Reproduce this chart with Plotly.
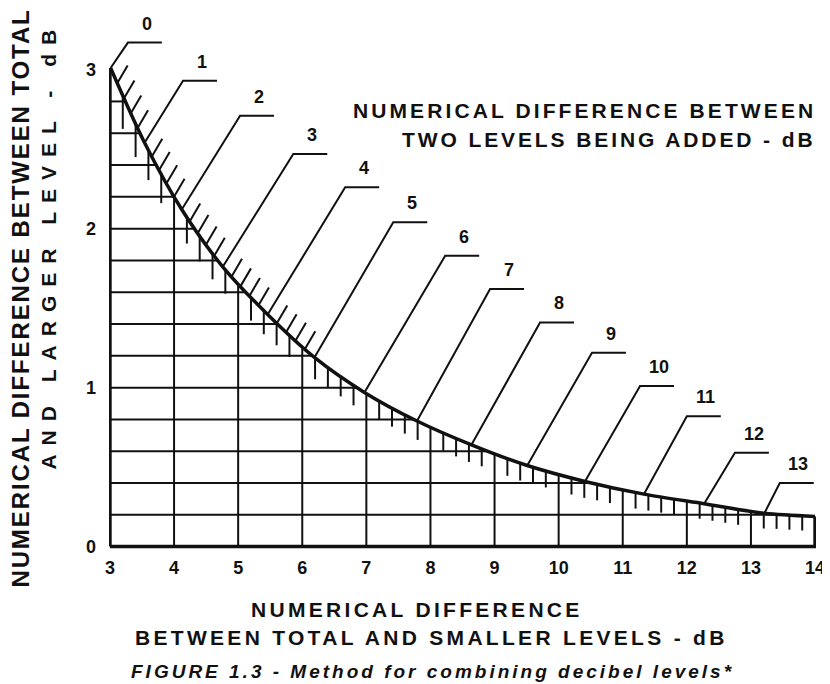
import numpy as np
import plotly.graph_objects as go

# ---------------- data ----------------
level_diff = [0, 1, 2, 3, 4, 5, 6, 7, 8, 9, 10, 11, 12, 13]          # dB between the two levels
smaller_diff = [3.01, 3.54, 4.12, 4.76, 5.46, 6.19, 6.97, 7.79, 8.64, 9.51, 10.41, 11.33, 12.27, 13.21]
larger_diff = [3.01, 2.54, 2.12, 1.76, 1.46, 1.19, 0.97, 0.79, 0.64, 0.51, 0.41, 0.33, 0.27, 0.21]
curve_tail_x = [14.0]
curve_tail_y = [0.19]
x_tick_vals = [3, 4, 5, 6, 7, 8, 9, 10, 11, 12, 13, 14]
y_tick_vals = [0, 1, 2, 3]
grid_step_y = 0.2

# ---------------- layout helpers (label placement) ----------------
label_elbow_x = [3.28, 4.14, 5.03, 5.86, 6.67, 7.42, 8.23, 8.93, 9.71, 10.52, 11.27, 12.0, 12.75, 13.45]
label_elbow_y = [3.17, 2.93, 2.71, 2.47, 2.26, 2.04, 1.83, 1.62, 1.41, 1.22, 1.01, 0.82, 0.59, 0.40]
seg_len = 0.53

OFF = 8.0                    # page body margin
X0_PX, UX = 110.0 - OFF, 64.1     # pixel of x=3, pixels per x unit (figure coords)
Y0_PX, UY = 547.0 - OFF, 159.0    # pixel of y=0, pixels per y unit
XR = [2.985, 14.015]
YR = [-0.015, 3.35]
W, H = 822, 676
ml = X0_PX + (XR[0] - 3) * UX
pw = (XR[1] - XR[0]) * UX
mt = Y0_PX - YR[1] * UY
ph = (YR[1] - YR[0]) * UY


def pxp(px):   # page px -> paper x
    return (px - OFF - ml) / pw


def pyp(py):   # page py -> paper y
    return (mt + ph - (py - OFF)) / ph


cx = smaller_diff + curve_tail_x
cy = larger_diff + curve_tail_y
cx_arr = np.array(cx)
cy_arr = np.array(cy)


def curve_y(x):
    return np.interp(x, cx_arr, cy_arr)


def curve_x(y):
    return np.interp(y, cy_arr[::-1], cx_arr[::-1])


BLACK = "#111111"
FONT = "Liberation Sans"

fig = go.Figure()

# grid bounded by the curve
gx, gy = [], []
for xv in x_tick_vals[1:-1]:
    gx += [xv, xv, None]
    gy += [0, float(curve_y(xv)), None]
yv = grid_step_y
while yv < 2.99:
    gx += [3, float(curve_x(yv)), None]
    gy += [yv, yv, None]
    yv = round(yv + grid_step_y, 3)
fig.add_trace(go.Scatter(x=gx, y=gy, mode="lines", line=dict(color=BLACK, width=2),
                         hoverinfo="skip", showlegend=False))

# hatching below the curve (vertical ticks)
hx, hy = [], []
xs = np.round(np.arange(3.2, 14.0, 0.2), 2)
for xv in xs:
    if abs(xv - round(xv)) < 1e-6:
        continue
    yc = float(curve_y(xv))
    slope = abs((curve_y(xv + 0.05) - curve_y(xv - 0.05)) / 0.1)
    L = 0.09 + 0.14 * min(slope, 1.1)
    hx += [xv, xv, None]
    hy += [yc, max(yc - L, 0), None]
fig.add_trace(go.Scatter(x=hx, y=hy, mode="lines", line=dict(color=BLACK, width=2),
                         hoverinfo="skip", showlegend=False))

# slanted ticks above the curve
sx, sy = [], []
ds = np.round(np.arange(0.2, 5.0, 0.2), 2)
for d in ds:
    if abs(d - round(d)) < 1e-6:
        continue
    xv = float(np.interp(d, level_diff, smaller_diff))
    yv2 = float(np.interp(d, level_diff, larger_diff))
    sx += [xv, xv + 0.16, None]
    sy += [yv2, yv2 + 0.11, None]
fig.add_trace(go.Scatter(x=sx, y=sy, mode="lines", line=dict(color=BLACK, width=2),
                         hoverinfo="skip", showlegend=False))

# leader lines
lx, ly = [], []
for i, d in enumerate(level_diff):
    lx += [smaller_diff[i], label_elbow_x[i], label_elbow_x[i] + seg_len, None]
    ly += [larger_diff[i], label_elbow_y[i], label_elbow_y[i], None]
fig.add_trace(go.Scatter(x=lx, y=ly, mode="lines", line=dict(color=BLACK, width=2),
                         hoverinfo="skip", showlegend=False))

# the curve
fig.add_trace(go.Scatter(x=cx, y=cy, mode="lines", line=dict(color=BLACK, width=3.5, shape="spline", smoothing=0.8),
                         hoverinfo="skip", showlegend=False))

# frame lines
fig.add_trace(go.Scatter(x=[3, 3, None, 3, 14, 14],
                         y=[cy[0], 0, None, 0, 0, cy[-1]],
                         mode="lines", line=dict(color=BLACK, width=3.5),
                         hoverinfo="skip", showlegend=False))

annotations = []
for i, d in enumerate(level_diff):
    annotations.append(dict(x=label_elbow_x[i] + seg_len * 0.55, y=label_elbow_y[i], xref="x", yref="y",
                            text=str(d), showarrow=False, yshift=19, yanchor="middle", xanchor="center",
                            font=dict(family=FONT, size=18, color=BLACK, weight="bold")))


def sp(text, ls):
    return f'<span style="letter-spacing:{ls}px">{text}</span>'


def add_text(text, px, py, size, ls, xanchor="center", angle=0, italic=False):
    annotations.append(dict(
        x=pxp(px), y=pyp(py), xref="paper", yref="paper", text=sp(text, ls), showarrow=False,
        xanchor=xanchor, yanchor="middle", textangle=angle,
        font=dict(family=FONT, size=size, color=BLACK, weight="bold",
                  style="italic" if italic else "normal")))


add_text("NUMERICAL DIFFERENCE BETWEEN", 818, 111, 21, 3.1, xanchor="right")
add_text("TWO LEVELS BEING ADDED - dB", 818, 140, 21, 2.9, xanchor="right")
add_text("NUMERICAL DIFFERENCE", 417, 610, 21, 3.3)
add_text("BETWEEN TOTAL AND SMALLER LEVELS - dB", 432, 638, 21, 3.3)
add_text("FIGURE 1.3 - Method for combining decibel levels*", 433, 672, 19, 3.0, italic=True)
add_text("NUMERICAL DIFFERENCE BETWEEN TOTAL", 21, 298, 24, 1.9, angle=-90)
add_text("AND LARGER LEVEL - dB", 49, 245, 21, 9.0, angle=-90)

fig.update_layout(
    width=W, height=H,
    margin=dict(l=ml, r=W - ml - pw, t=mt, b=H - mt - ph, pad=0),
    paper_bgcolor="white", plot_bgcolor="white",
    showlegend=False,
    annotations=annotations,
    xaxis=dict(range=XR, tickvals=x_tick_vals, ticktext=[str(v) for v in x_tick_vals],
               showgrid=False, zeroline=False, showline=False, ticks="",
               tickfont=dict(family=FONT, size=18, color=BLACK, weight="bold"), ticklabelstandoff=6),
    yaxis=dict(range=YR, tickvals=y_tick_vals, ticktext=[str(v) for v in y_tick_vals],
               showgrid=False, zeroline=False, showline=False, ticks="",
               tickfont=dict(family=FONT, size=18, color=BLACK, weight="bold"), ticklabelstandoff=12),
)

fig.write_html("out.html")
